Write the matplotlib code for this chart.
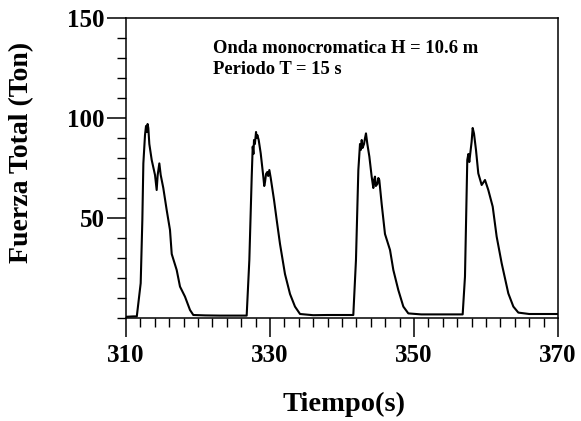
import numpy as np
import matplotlib
matplotlib.use("Agg")
import matplotlib.pyplot as plt
from matplotlib.ticker import MultipleLocator

# Fuerza total sobre la estructura, onda monocromatica H = 10.6 m, T = 15 s
# valores (tiempo en s, fuerza en Ton)
t_base0 = [310.0, 311.0, 311.5]
f_base0 = [0.6, 0.8, 0.8]

t_pulso1 = [312.04, 312.27, 312.41, 312.64, 312.78, 312.9, 313.0, 313.1, 313.24,
            313.57, 314.03, 314.26, 314.4, 314.63, 314.82, 315.18, 315.65,
            316.11, 316.35, 317.04, 317.5, 318.19, 318.89, 319.35]
f_pulso1 = [17.4, 49, 77.3, 91.5, 96, 93, 97, 95, 87,
            79, 71.5, 64, 71.5, 77.3, 71.5, 65, 54,
            44, 32, 24, 15.7, 10.7, 4, 1.5]

t_base1 = [321.0, 323.0, 325.0, 326.76]
f_base1 = [1.3, 1.2, 1.2, 1.2]

t_pulso2 = [327.13, 327.46, 327.6, 327.7, 327.78, 327.9, 328.06, 328.15, 328.24,
            328.43, 328.71, 329.07, 329.2, 329.31, 329.45, 329.63, 329.75,
            329.91, 330.1, 330.56, 330.93, 331.39, 331.62, 332.08, 332.78,
            333.47, 334.17]
f_pulso2 = [29, 70.7, 85.7, 82, 89, 87, 93, 90, 91.5,
            89, 82.3, 70.7, 66, 68, 72, 73, 71,
            74, 70, 59, 49, 37, 32, 22, 12,
            5.7, 2.0]

t_base2 = [336.0, 338.0, 340.0, 341.57]
f_base2 = [1.4, 1.5, 1.5, 1.5]

t_pulso3 = [341.94, 342.27, 342.5, 342.6, 342.74, 342.85, 343.06, 343.2, 343.33,
            343.52, 343.8, 344.12, 344.35, 344.45, 344.58, 344.7, 344.91,
            345.05, 345.18, 345.51, 345.97, 346.67, 347.13, 347.82, 348.52,
            349.21]
f_pulso3 = [29, 74, 87, 84, 89, 85, 87, 90, 92.3,
            87, 80.7, 70.7, 65, 69, 70.7, 66, 67,
            70, 69, 57, 42, 34, 24, 14, 5.7,
            2.3]

t_base3 = [351.0, 353.0, 355.0, 356.76]
f_base3 = [1.8, 1.8, 1.8, 1.8]

t_pulso4 = [357.08, 357.4, 357.55, 357.68, 357.87, 358.0, 358.15, 358.33,
            358.61, 358.93, 359.4, 359.86, 360.32, 360.93, 361.48, 362.18,
            363.1, 363.8, 364.49]
f_pulso4 = [20.7, 79, 82, 78, 84, 88, 95, 92.3,
            84, 72.3, 66.5, 69, 64, 55.7, 40.7, 27.3,
            12.3, 5.7, 2.7]

t_base4 = [366.0, 368.0, 370.0]
f_base4 = [2.0, 2.0, 2.0]

tiempo = np.concatenate([t_base0, t_pulso1, t_base1, t_pulso2, t_base2,
                         t_pulso3, t_base3, t_pulso4, t_base4])
fuerza = np.concatenate([f_base0, f_pulso1, f_base1, f_pulso2, f_base2,
                         f_pulso3, f_base3, f_pulso4, f_base4])

xticks = [310, 330, 350, 370]
yticks = [50, 100, 150]

serif = ["Liberation Serif", "DejaVu Serif"]

fig = plt.figure(figsize=(5.81, 4.21), dpi=100)
ax = fig.add_axes([126 / 581, 103 / 421, 432 / 581, 300 / 421])

ax.plot(tiempo, fuerza, color="black", lw=1.5)

ax.set_xlim(310, 370)
ax.set_ylim(0, 150)
ax.set_xticks(xticks)
ax.set_yticks(yticks)
ax.xaxis.set_minor_locator(MultipleLocator(2))
ax.yaxis.set_minor_locator(MultipleLocator(10))

for s in ax.spines.values():
    s.set_linewidth(1.1)

ax.tick_params(which="major", direction="out", length=13.5, width=1.1)
ax.tick_params(which="minor", direction="out", length=6.5, width=1.0)
ax.tick_params(axis="y", which="major", pad=2)
ax.tick_params(axis="x", which="major", pad=5)

for lab in ax.get_xticklabels() + ax.get_yticklabels():
    lab.set_fontfamily(serif)
    lab.set_fontweight("bold")
    lab.set_fontsize(18)

ax.text(0.201, 0.925, "Onda monocromatica H = 10.6 m", transform=ax.transAxes,
        ha="left", va="top", fontsize=13.4, fontweight="bold", family=serif)
ax.text(0.201, 0.858, "Periodo T = 15 s", transform=ax.transAxes,
        ha="left", va="top", fontsize=13.4, fontweight="bold", family=serif)

fig.text(22 / 581, 1 - 152 / 421, "Fuerza Total (Ton)", rotation=90,
         ha="center", va="center", fontsize=20, fontweight="bold", family=serif)
fig.text(344 / 581, 1 - 404 / 421, "Tiempo(s)", ha="center", va="center",
         fontsize=20.5, fontweight="bold", family=serif)

fig.savefig("out.png", dpi=100)
